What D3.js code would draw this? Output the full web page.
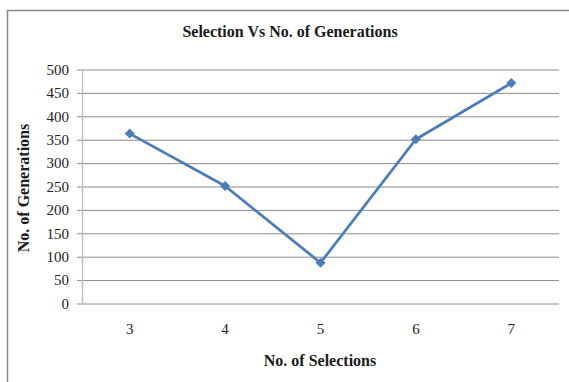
<!DOCTYPE html>
<html><head><meta charset="utf-8">
<script src="https://cdn.jsdelivr.net/npm/d3@7"></script>
<style>body{margin:0;background:#fff}svg{display:block}</style>
</head><body><svg id="c" width="569" height="382"></svg>
<script>
const categories = ["3","4","5","6","7"];
const generations = [363, 251, 87, 351, 471];
const yTicks = [0,50,100,150,200,250,300,350,400,450,500];
const title = "Selection Vs No. of Generations";
const xTitle = "No. of Selections";
const yTitle = "No. of Generations";

const FONT = "'Liberation Serif', 'Times New Roman', serif";
const svg = d3.select("#c");
const L = 82, R = 559, T = 69.5, B = 303.5;
const x = d3.scaleBand().domain(categories).range([L, R]);
const y = d3.scaleLinear().domain([0, 500]).range([B, T]);

// outer border
svg.append("path").attr("d","M7.5,382 V10.5 H569").attr("fill","none").attr("stroke","#8a8a8a").attr("stroke-width",1.5);

// gridlines + y axis
const ya = d3.axisLeft(y).tickValues(yTicks).tickSize(-(R-L)).tickPadding(13);
const gy = svg.append("g").attr("transform",`translate(${L},0)`).call(ya);
gy.attr("font-family", FONT).attr("font-size", 15);
gy.select(".domain").remove();
gy.selectAll(".tick line").attr("x1",-5).attr("stroke","#8c8c8c").attr("stroke-width",1);
gy.selectAll(".tick text").style("font-family", FONT).style("font-size","15px").attr("fill","#222");
svg.append("line").attr("x1",L+0.5).attr("x2",L+0.5).attr("y1",T).attr("y2",B).attr("stroke","#c0c0c0").attr("stroke-width",1.5);

// x axis labels
const xa = d3.axisBottom(x).tickSize(0).tickPadding(20);
const gx = svg.append("g").attr("transform",`translate(0,${B})`).call(xa);
gx.attr("font-family", FONT).attr("font-size", 15);
gx.select(".domain").remove();
gx.selectAll(".tick text").style("font-family", FONT).style("font-size","15px").attr("fill","#222");

// line
const cx = d => x(d) + x.bandwidth()/2;
const line = d3.line().x((d,i)=>cx(categories[i])).y(d=>y(d));
svg.append("path").datum(generations).attr("d",line).attr("fill","none").attr("stroke","#4a7ebb").attr("stroke-width",2.75).attr("stroke-linejoin","round");
svg.selectAll(".m").data(generations).enter().append("path")
  .attr("d", d3.symbol(d3.symbolSquare, 50)())
  .attr("transform",(d,i)=>`translate(${cx(categories[i])},${y(d)}) rotate(45)`)
  .attr("fill","#4a7ebb");

// titles
const t = (sel) => sel.style("font-family", FONT).attr("font-size",16).attr("font-weight","bold").attr("fill","#1a1a1a").attr("text-anchor","middle");
svg.append("text").attr("x",290).attr("y",37).call(t).text(title);
svg.append("text").attr("x",320).attr("y",366).call(t).text(xTitle);
svg.append("text").attr("transform","translate(29,188) rotate(-90)").call(t).text(yTitle);
</script></body></html>
